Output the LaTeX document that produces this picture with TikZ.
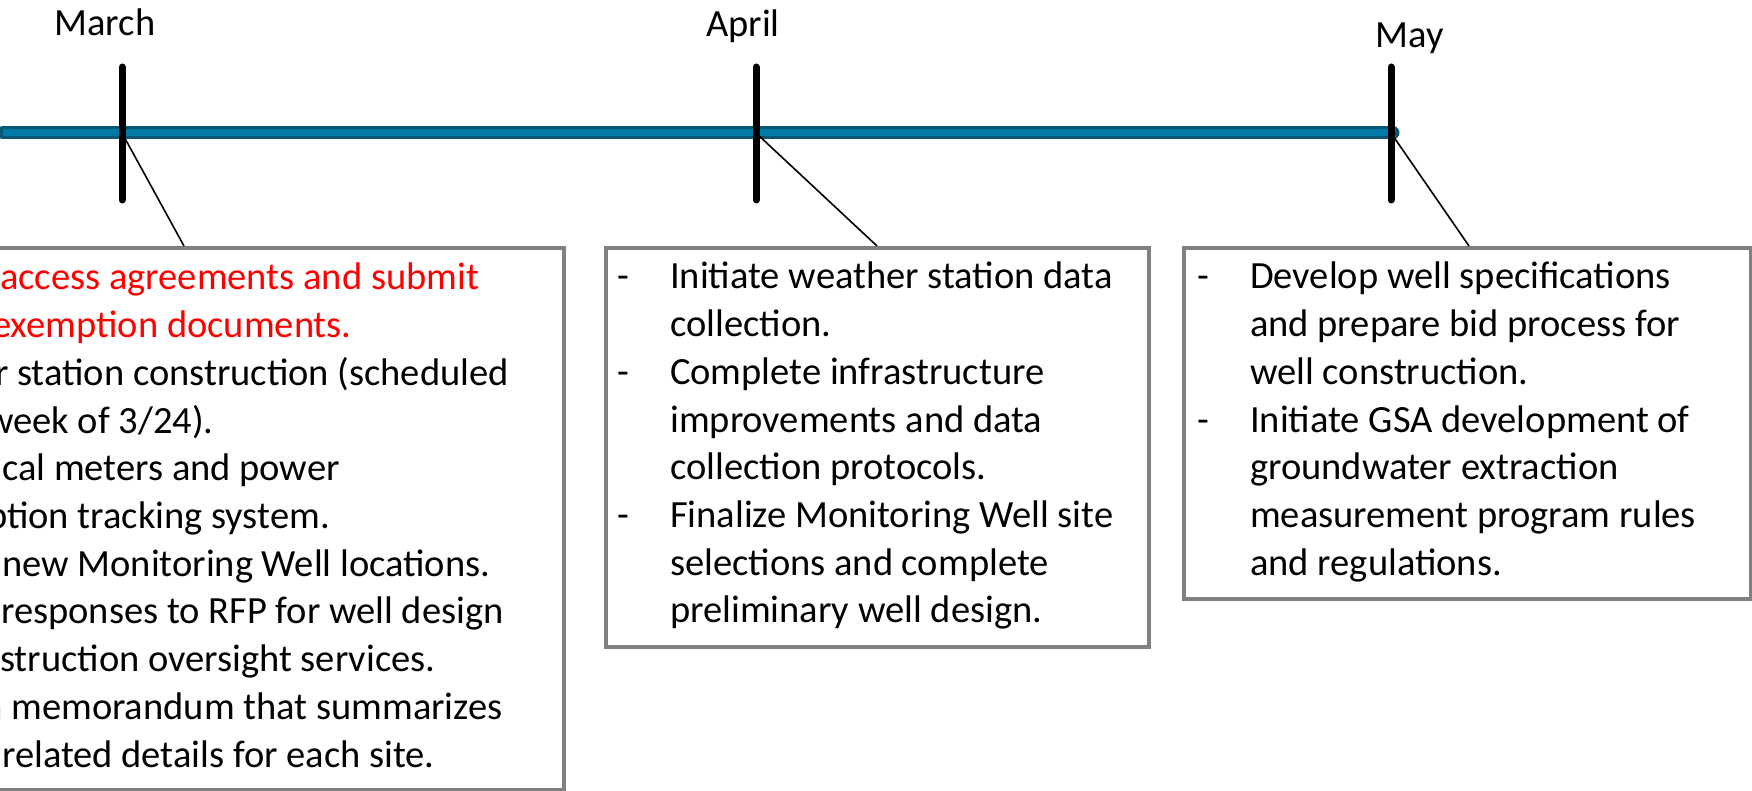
\documentclass[tikz,border=0pt]{standalone}
\usepackage{fontspec}
\setmainfont{Carlito}
\usepackage{tikz}
\usetikzlibrary{calc}
\usetikzlibrary{positioning}
\usepackage{xcolor}
\definecolor{barblue}{RGB}{0,122,166}
\definecolor{bardark}{RGB}{10,86,116}
\definecolor{boxgray}{RGB}{128,128,128}
\definecolor{notered}{rgb}{1.0,0.0,0.0}

\newcommand{\dashitem}{\makebox[53pt][l]{-}}
\newcommand{\dashcont}{\hspace*{53pt}}

\tikzset{
  month/.style={anchor=base, inner sep=0pt, font=\fontsize{38.5}{47.7}\selectfont},
  monthtick/.style={line width=7pt, line cap=round},
  leader/.style={line width=1.6pt},
  notebox/.style={draw=boxgray, line width=4pt, fill=white, anchor=north west, inner sep=0pt},
  notes/.style={anchor=base west, inner sep=0pt, font=\fontsize{38.5}{47.7}\selectfont},
}

\begin{document}
\begin{tikzpicture}[x=1pt,y=-1pt]
    \useasboundingbox (0,0) rectangle (1752,791);
    \clip (0,0) rectangle (1752,791);
    \coordinate (start) at (3,133);
    \coordinate (mar) at (122,133);
    \coordinate (apr) at (756,133);
    \coordinate (may) at (1391,133);
    % timeline bar
    \draw[bardark, line width=13pt, line cap=round] (start) -- ([xshift=2pt]may);
    \draw[barblue, line width=7pt] (start) -- ([xshift=2pt]may);
    % boxes
    \node[notebox, minimum width=572pt, minimum height=542pt] (marbox) at (-10,246) {};
    \node[notebox, minimum width=543pt, minimum height=399pt] (aprbox) at (604,246) {};
    \node[notebox, minimum width=567pt, minimum height=351pt] (maybox) at (1182,246) {};
    % leaders
    \draw[leader] (mar) -- ([xshift=194pt]marbox.north west);
    \draw[leader] (apr) -- ([xshift=273pt]aprbox.north west);
    \draw[leader] (may) -- ([xshift=287pt]maybox.north west);
    % ticks
    \draw[monthtick] ([yshift=66pt]mar) -- ([yshift=-67pt]mar);
    \draw[monthtick] ([yshift=66pt]apr) -- ([yshift=-67pt]apr);
    \draw[monthtick] ([yshift=66pt]may) -- ([yshift=-67pt]may);
    \node[month] (marlbl) at (105,36) {March};
    \node[month] (aprlbl) at (743,37) {April};
    \node[month] (maylbl) at (1410,48) {May};
    % notes
    \node[notes] (martxt) at (0,290) {\begin{tabular}[t]{@{}l@{}}
      \color{notered}access agreements and submit\\
      \color{notered}\hspace*{-8pt}exemption documents.\\
      \hspace*{-5pt}r station construction (scheduled\\
      \hspace*{-14pt}week of 3/24).\\
      \hspace*{2pt}cal meters and power\\
      \hspace*{-13pt}ption tracking system.\\
      \hspace*{2pt}new Monitoring Well locations.\\
      \hspace*{1pt}responses to RFP for well design\\
      struction oversight services.\\
      \hspace*{-16pt}a memorandum that summarizes\\
      \hspace*{2pt}related details for each site.
    \end{tabular}};
    \node[notes] (aprtxt) at (617,289) {\begin{tabular}[t]{@{}l@{}}
      \dashitem Initiate weather station data\\
      \dashcont collection.\\
      \dashitem Complete infrastructure\\
      \dashcont improvements and data\\
      \dashcont collection protocols.\\
      \dashitem Finalize Monitoring Well site\\
      \dashcont selections and complete\\
      \dashcont preliminary well design.
    \end{tabular}};
    \node[notes] (maytxt) at (1197,289) {\begin{tabular}[t]{@{}l@{}}
      \dashitem Develop well specifications\\
      \dashcont and prepare bid process for\\
      \dashcont well construction.\\
      \dashitem Initiate GSA development of\\
      \dashcont groundwater extraction\\
      \dashcont measurement program rules\\
      \dashcont and regulations.
    \end{tabular}};
\end{tikzpicture}
\end{document}
